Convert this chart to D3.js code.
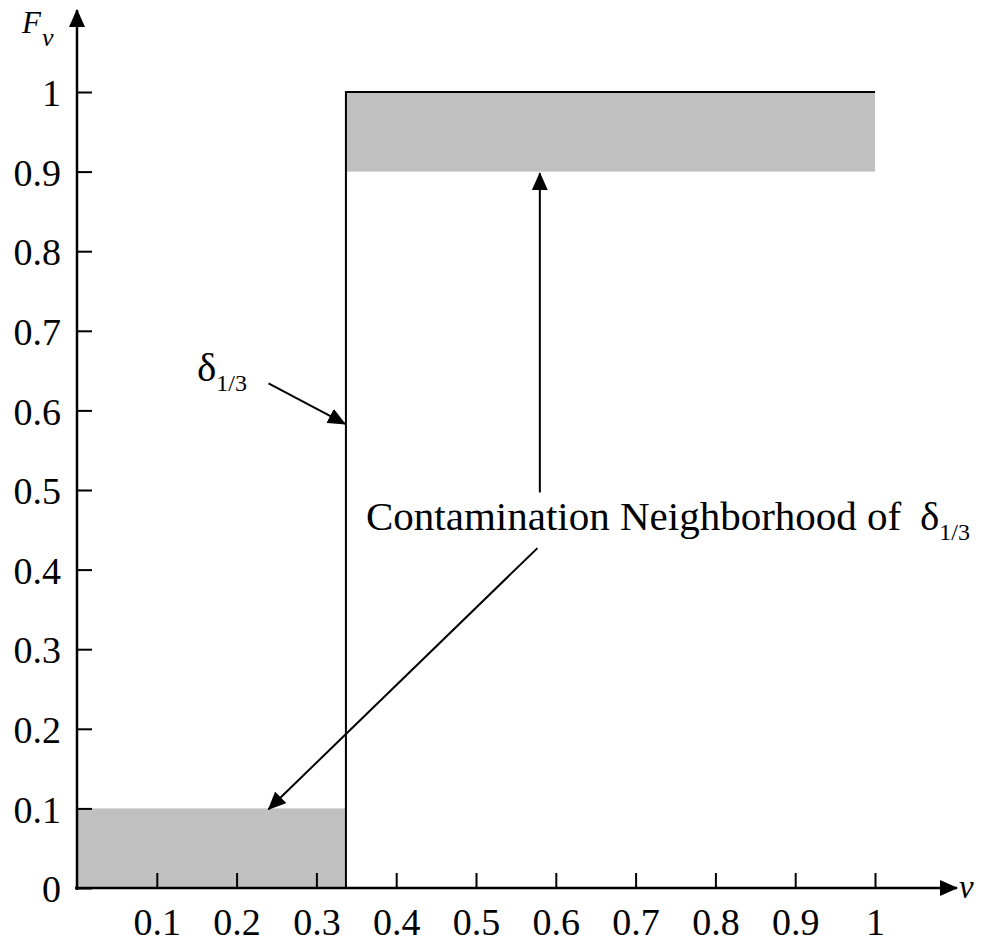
<!DOCTYPE html>
<html>
<head>
<meta charset="utf-8">
<script src="https://cdn.jsdelivr.net/npm/d3@7/dist/d3.min.js"></script>
<style>
  body { margin: 0; background: #fff; }
  svg text { font-family: "Liberation Serif", "Times New Roman", serif; fill: #000; }
</style>
</head>
<body>
<div id="chart"></div>
<script>
// tick values
var xTicks = [0.1, 0.2, 0.3, 0.4, 0.5, 0.6, 0.7, 0.8, 0.9, 1];
var yTicks = [0, 0.1, 0.2, 0.3, 0.4, 0.5, 0.6, 0.7, 0.8, 0.9, 1];

// step cdf of delta_{1/3} (jump position as drawn)
var stepX = [0, 0.337, 0.337, 1];
var stepY = [0, 0, 1, 1];

// shaded contamination bands
var bandX0 = [0.337, 0];
var bandX1 = [1, 0.337];
var bandY0 = [0.9, 0];
var bandY1 = [1, 0.1];

// annotation arrows, in data units (from -> to)
var arrowX1 = [0.24, 0.58, 0.577];
var arrowY1 = [0.634, 0.497, 0.427];
var arrowX2 = [0.336, 0.58, 0.24];
var arrowY2 = [0.583, 0.898, 0.099];

var width = 989,
    height = 942;

var svg = d3.select("#chart")
    .append("svg")
    .attr("width", width)
    .attr("height", height);

var x = d3.scaleLinear().domain([0, 1]).range([77, 875]);
var y = d3.scaleLinear().domain([0, 1]).range([888, 92]);

var serif = "'Liberation Serif', 'Times New Roman', serif";

// arrow head marker
svg.append("defs").append("marker")
    .attr("id", "head")
    .attr("markerUnits", "userSpaceOnUse")
    .attr("viewBox", "0 -8 18 16")
    .attr("refX", 17)
    .attr("refY", 0)
    .attr("markerWidth", 18)
    .attr("markerHeight", 16)
    .attr("orient", "auto")
    .append("path")
    .attr("d", "M0,-8L18,0L0,8Z")
    .attr("fill", "#000");

// gray bands
svg.selectAll("rect.band")
    .data(bandX0)
    .enter()
    .append("rect")
    .attr("class", "band")
    .attr("x", function(d, i) { return x(bandX0[i]); })
    .attr("y", function(d, i) { return y(bandY1[i]); })
    .attr("width", function(d, i) { return x(bandX1[i]) - x(bandX0[i]); })
    .attr("height", function(d, i) { return y(bandY0[i]) - y(bandY1[i]); })
    .attr("fill", "#c0c0c0");

// step line
var line = d3.line()
    .x(function(d, i) { return x(stepX[i]); })
    .y(function(d, i) { return y(stepY[i]); });

svg.append("path")
    .datum(stepX)
    .attr("d", line)
    .attr("fill", "none")
    .attr("stroke", "#000")
    .attr("stroke-width", 2);

// axes
var xAxis = d3.axisBottom(x)
    .tickValues(xTicks)
    .tickSize(-15)
    .tickPadding(20)
    .tickFormat(d3.format("~g"));

var yAxis = d3.axisLeft(y)
    .tickValues(yTicks)
    .tickSize(-15)
    .tickPadding(16)
    .tickFormat(d3.format("~g"));

var gx = svg.append("g")
    .attr("transform", "translate(0," + y(0) + ")")
    .call(xAxis);
var gy = svg.append("g")
    .attr("transform", "translate(" + x(0) + ",0)")
    .call(yAxis);

[gx, gy].forEach(function(g) {
    g.attr("font-family", serif).attr("font-size", 38);
    g.select(".domain").remove();
    g.selectAll(".tick line").attr("stroke", "#000").attr("stroke-width", 2);
    g.selectAll(".tick text")
        .style("font-family", serif)
        .style("font-size", "38px")
        .attr("fill", "#000");
});
gx.selectAll(".tick text").attr("dy", "0.71em");
gy.selectAll(".tick text").attr("dy", "0.36em");

// axis lines with arrow heads
svg.append("line")
    .attr("x1", 75).attr("y1", y(0))
    .attr("x2", 957).attr("y2", y(0))
    .attr("stroke", "#000").attr("stroke-width", 2.5)
    .attr("marker-end", "url(#head)");
svg.append("line")
    .attr("x1", x(0)).attr("y1", y(0) + 2)
    .attr("x2", x(0)).attr("y2", 10)
    .attr("stroke", "#000").attr("stroke-width", 2.5)
    .attr("marker-end", "url(#head)");

// axis titles
var fv = svg.append("text").attr("x", 22).attr("y", 33)
    .style("font-family", serif)
    .style("font-size", "31px").style("font-style", "italic");
fv.append("tspan").text("F");
fv.append("tspan").attr("x", 42).attr("y", 46).style("font-size", "26px").text("v");

svg.append("text")
    .attr("x", 959).attr("y", 898)
    .style("font-family", serif)
    .style("font-size", "33px").style("font-style", "italic")
    .text("v");

// annotation arrows
svg.selectAll("line.note")
    .data(arrowX1)
    .enter()
    .append("line")
    .attr("class", "note")
    .attr("x1", function(d, i) { return x(arrowX1[i]); })
    .attr("y1", function(d, i) { return y(arrowY1[i]); })
    .attr("x2", function(d, i) { return x(arrowX2[i]); })
    .attr("y2", function(d, i) { return y(arrowY2[i]); })
    .attr("stroke", "#000")
    .attr("stroke-width", 2)
    .attr("marker-end", "url(#head)");

// delta label
var dl = svg.append("text").attr("x", 197).attr("y", 381)
    .style("font-family", serif).style("font-size", "41px");
dl.append("tspan").text("δ");
dl.append("tspan").attr("dy", 10).style("font-size", "24px").text("1/3");

// contamination label
var cl = svg.append("text").attr("x", 366).attr("y", 530)
    .style("font-family", serif).style("font-size", "41px");
cl.append("tspan").text("Contamination Neighborhood of ");
cl.append("tspan").attr("x", 920).text("δ");
cl.append("tspan").attr("dy", 10).style("font-size", "24px").text("1/3");
</script>
</body>
</html>
